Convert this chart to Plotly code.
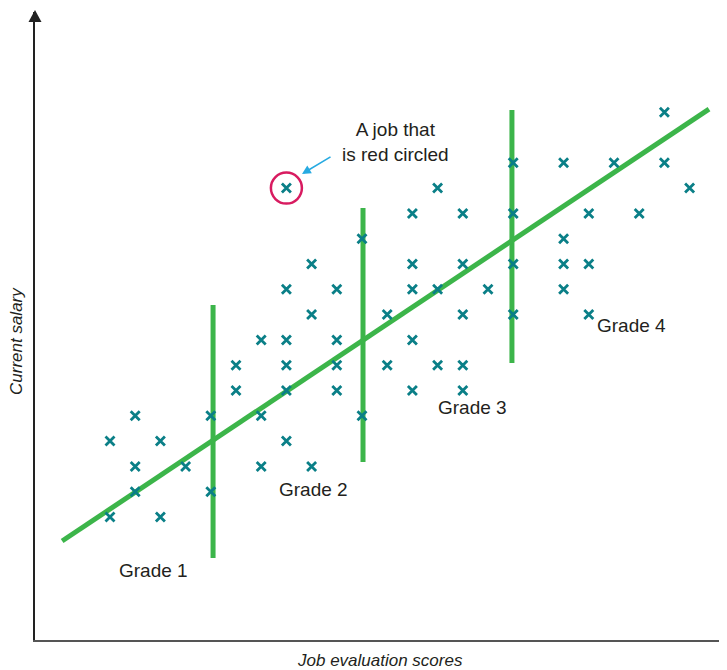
import plotly.graph_objects as go

# ---- data (grid units: job evaluation score index, salary index) ----
job_scores = [0, 1, 2, 1, 3, 1, 0, 2, 4, 4,
              8, 7, 9, 8, 11, 6, 7, 9, 5, 7, 9, 11, 5, 7, 9, 6, 10, 7, 6, 8, 10,
              13, 12, 14, 16, 12, 14, 16, 12, 13, 15, 14, 16, 12, 13, 14, 12, 14, 16,
              22, 18, 20, 22, 23, 19, 21, 18, 18, 19, 18, 19]
salaries = [3, 4, 3, 2, 2, 1, 0, 0, 4, 1,
            10, 9, 9, 8, 8, 7, 7, 7, 6, 6, 6, 6, 5, 5, 5, 4, 4, 3, 2, 2, 11,
            13, 12, 12, 12, 10, 10, 10, 9, 9, 9, 8, 8, 7, 6, 6, 5, 5, 14,
            16, 14, 14, 14, 13, 12, 12, 11, 10, 10, 9, 8]

circled_score = [7]
circled_salary = [13]

trend_x = [-1.9, 23.77]
trend_y = [-0.95, 16.12]

grade_x = [4.09, 10.04, 15.95]
grade_low = [-1.62, 2.17, 6.09]
grade_high = [8.38, 12.21, 16.09]

grade_labels = ["Grade 1", "Grade 2", "Grade 3", "Grade 4"]
grade_label_x = [1.71, 8.06, 14.37, 20.71]
grade_label_y = [-2.13, 1.07, 4.31, 7.55]

note_text = "A job that<br>is red circled"
note_x, note_y = 11.31, 14.82
arrow_tip_x, arrow_tip_y = 7.62, 13.56

GREEN = "#3cb54a"
TEAL = "#0a7f87"
TXT = "#231f20"
FONT = "Liberation Sans, Arial, sans-serif"

fig = go.Figure()

# grade boundary lines
for gx, lo, hi in zip(grade_x, grade_low, grade_high):
    fig.add_trace(go.Scatter(x=[gx, gx], y=[lo, hi], mode="lines",
                             line=dict(color=GREEN, width=5),
                             hoverinfo="skip", showlegend=False))

# trend line
fig.add_trace(go.Scatter(x=trend_x, y=trend_y, mode="lines",
                         line=dict(color=GREEN, width=5),
                         hoverinfo="skip", showlegend=False))

# jobs
fig.add_trace(go.Scatter(x=job_scores + circled_score, y=salaries + circled_salary,
                         mode="markers",
                         marker=dict(symbol="x-thin", size=9, color=TEAL,
                                     line=dict(width=2.8, color=TEAL)),
                         hoverinfo="skip", showlegend=False))

# red circle
fig.add_trace(go.Scatter(x=circled_score, y=circled_salary, mode="markers",
                         marker=dict(symbol="circle-open", size=31, color="#d81b60",
                                     line=dict(width=2.5, color="#d81b60")),
                         hoverinfo="skip", showlegend=False))

annotations = []
for t, x, y in zip(grade_labels, grade_label_x, grade_label_y):
    annotations.append(dict(x=x, y=y, text=t, showarrow=False,
                            font=dict(family=FONT, size=19, color=TXT)))
annotations.append(dict(x=note_x, y=note_y, text=note_text, showarrow=False,
                        align="center", font=dict(family=FONT, size=19, color=TXT)))
annotations.append(dict(x=arrow_tip_x, y=arrow_tip_y, text="", showarrow=True,
                        ax=30, ay=-18, arrowhead=2, arrowsize=1.1, arrowwidth=1.6,
                        arrowcolor="#27aae1", standoff=0))
# axis titles
W, H = 689.0, 628.0
annotations.append(dict(xref="paper", yref="paper", x=(17 - 35) / W, y=(640 - 341) / H,
                        xanchor="center", yanchor="middle",
                        text="<i>Current salary</i>", textangle=-90, showarrow=False,
                        font=dict(family=FONT, size=17, color=TXT)))
annotations.append(dict(xref="paper", yref="paper", x=(380 - 35) / W, y=(640 - 660) / H,
                        xanchor="center", yanchor="middle",
                        text="<i>Job evaluation scores</i>", showarrow=False,
                        font=dict(family=FONT, size=17, color=TXT)))

# axis arrowheads (paper coords)
shapes = [
    dict(type="path", xref="paper", yref="paper",
         path=f"M 0 {1 + 2 / H} L {-6.5 / W} {1 - 10 / H} L {6.5 / W} {1 - 10 / H} Z",
         fillcolor="#222", line=dict(width=0)),
    dict(type="path", xref="paper", yref="paper",
         path=f"M {1 + 12 / W} 0 L {1 + 1 / W} {5 / H} L {1 + 1 / W} {-5 / H} Z",
         fillcolor="#555", line=dict(width=0)),
]

# page body has an 8px margin, so the figure is shifted by 8px
fig.update_layout(
    width=719, height=662,
    margin=dict(l=27, r=3, t=4, b=30),
    paper_bgcolor="white", plot_bgcolor="white",
    annotations=annotations, shapes=shapes,
    xaxis=dict(range=[-2.976, 24.365], showgrid=False, zeroline=False,
               showticklabels=False, ticks="", showline=True,
               linecolor="#555", linewidth=2),
    yaxis=dict(range=[-4.862, 19.96], showgrid=False, zeroline=False,
               showticklabels=False, ticks="", showline=True,
               linecolor="#222", linewidth=2),
    hovermode=False,
)

fig.write_html("out.html")
